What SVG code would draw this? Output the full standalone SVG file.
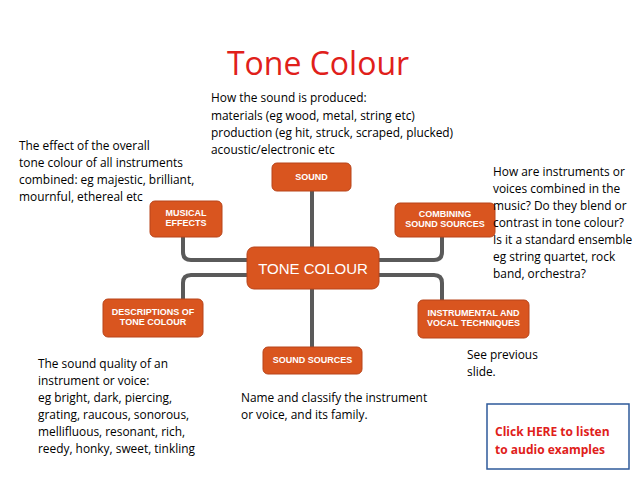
<svg xmlns="http://www.w3.org/2000/svg" width="638" height="479" viewBox="0 0 638 479">
<style>
.n{fill:#d9551f;stroke:#b8441a;stroke-width:1}
.l{font-family:"Liberation Sans",Arial,sans-serif;font-weight:bold;font-size:9px;fill:#fff;text-anchor:middle}
.t{font-family:"Open Sans","Liberation Sans",sans-serif;font-size:11.9px;fill:#000}
.c{fill:none;stroke:#5a5a5a;stroke-width:4}
</style>
<rect width="638" height="479" fill="#fff"/>
<text x="318" y="75" text-anchor="middle" font-family="Open Sans,Liberation Sans,sans-serif" font-size="32" fill="#e0201a">Tone Colour</text>
<g id="connectors">
<path class="c" d="M312 191V247M312 289V347"/>
<path class="c" d="M183 237V252Q183 260 191 260H247"/>
<path class="c" d="M247 275H191Q183 275 183 283V299"/>
<path class="c" d="M379 260H434Q442 260 442 252V237"/>
<path class="c" d="M379 275H434Q442 275 442 283V300"/>
</g>
<g id="sound"><rect class="n" x="272" y="163" width="79" height="28" rx="5"/><text class="l" x="311.5" y="180">SOUND</text></g>
<g id="musical"><rect class="n" x="150" y="201" width="72" height="36" rx="5"/><text class="l" x="186" y="216">MUSICAL</text><text class="l" x="186" y="226">EFFECTS</text></g>
<g id="combining"><rect class="n" x="395" y="203" width="100" height="34" rx="5"/><text class="l" x="445" y="217">COMBINING</text><text class="l" x="445" y="227">SOUND SOURCES</text></g>
<g id="tone"><rect class="n" x="247" y="247" width="132" height="42" rx="7"/><text x="313" y="274" text-anchor="middle" font-family="Liberation Sans,Arial,sans-serif" font-size="15" fill="#fff">TONE COLOUR</text></g>
<g id="descriptions"><rect class="n" x="103" y="299" width="100" height="38" rx="5"/><text class="l" x="153" y="315">DESCRIPTIONS OF</text><text class="l" x="153" y="325">TONE COLOUR</text></g>
<g id="instrumental"><rect class="n" x="418" y="300" width="111" height="38" rx="5"/><text class="l" x="473.5" y="316">INSTRUMENTAL AND</text><text class="l" x="473.5" y="326">VOCAL TECHNIQUES</text></g>
<g id="sources"><rect class="n" x="263" y="347" width="99" height="27" rx="5"/><text class="l" x="312.5" y="363">SOUND SOURCES</text></g>
<g id="texts">
<text class="t"><tspan x="211" y="102">How the sound is produced:</tspan><tspan x="211" y="120">materials (eg wood, metal, string etc)</tspan><tspan x="211" y="137">production (eg hit, struck, scraped, plucked)</tspan><tspan x="211" y="154">acoustic/electronic etc</tspan></text>
<text class="t"><tspan x="19" y="150">The effect of the overall</tspan><tspan x="19" y="167">tone colour of all instruments</tspan><tspan x="19" y="184">combined: eg majestic, brilliant,</tspan><tspan x="19" y="201">mournful, ethereal etc</tspan></text>
<text class="t"><tspan x="493" y="176">How are instruments or</tspan><tspan x="493" y="193">voices combined in the</tspan><tspan x="493" y="210">music? Do they blend or</tspan><tspan x="493" y="227">contrast in tone colour?</tspan><tspan x="493" y="244">Is it a standard ensemble</tspan><tspan x="493" y="261">eg string quartet, rock</tspan><tspan x="493" y="278">band, orchestra?</tspan></text>
<text class="t"><tspan x="38" y="368">The sound quality of an</tspan><tspan x="38" y="385">instrument or voice:</tspan><tspan x="38" y="402">eg bright, dark, piercing,</tspan><tspan x="38" y="419">grating, raucous, sonorous,</tspan><tspan x="38" y="436">mellifluous, resonant, rich,</tspan><tspan x="38" y="453">reedy, honky, sweet, tinkling</tspan></text>
<text class="t"><tspan x="241" y="402">Name and classify the instrument</tspan><tspan x="241" y="419">or voice, and its family.</tspan></text>
<text class="t"><tspan x="467" y="359">See previous</tspan><tspan x="467" y="376">slide.</tspan></text>
</g>
<g id="link"><rect x="487" y="404" width="142" height="65" fill="#fff" stroke="#2e5a9a" stroke-width="1.5"/>
<text font-family="Open Sans,Liberation Sans,sans-serif" font-weight="bold" font-size="12" fill="#e0201a"><tspan x="495" y="436">Click HERE to listen</tspan><tspan x="495" y="454">to audio examples</tspan></text></g>
</svg>
